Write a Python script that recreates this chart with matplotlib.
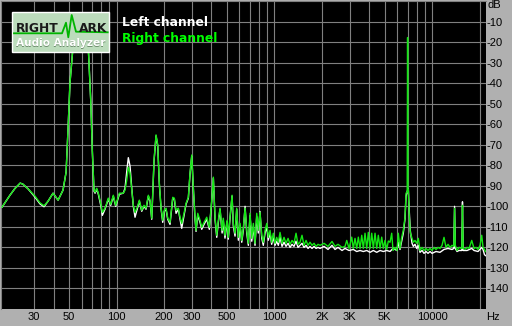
import matplotlib
matplotlib.use('Agg')
import matplotlib.pyplot as plt
from matplotlib.patches import Rectangle
from matplotlib.ticker import NullFormatter

# spectrum below ~450 Hz, both channels read at the same frequencies
freq_lo = [18.8, 21.1, 22.7, 24.5, 25.5, 27.5, 30.4, 32.7, 34.7, 36.8,
           39.6, 42.6, 45.8, 47.9, 49.3, 50.7, 52.8, 54.6, 59.1, 64.1,
           66.3, 68.6, 70.2, 72.0, 73.1, 74.9, 76.7, 79.4, 81.3, 84.5,
           88.7, 91.9, 95.4, 98.8, 104.2, 110.4, 113.2, 116.1, 118.8, 121.8,
           124.9, 127.8, 131.0, 135.5, 139.5, 144.5, 149.4, 153.8, 159.1, 163.1,
           167.2, 172.9, 178.0, 182.5, 186.8, 191.5, 196.3, 200.9, 206.0, 211.2,
           218.3, 227.2, 232.5, 238.4, 246.5, 252.7, 259.0, 267.9, 275.8, 285.3,
           292.4, 299.8, 306.8, 314.6, 319.2, 327.2, 338.4, 346.9, 358.8, 373.2,
           387.6, 401.4, 410.9, 421.2, 431.8, 442.0]
right_lo = [-100.4, -94.6, -91.3, -88.7, -89.2, -91.5, -95.0, -98.3, -99.7, -97.5,
            -93.6, -97.0, -92.1, -83.3, -62.0, -39.8, -23.7, -12.0, -7.0, -12.0,
            -23.7, -48.1, -72.6, -92.1, -93.1, -91.2, -93.6, -98.5, -102.9, -100.9,
            -96.0, -99.0, -94.6, -99.5, -93.6, -93.6, -92.1, -87.2, -80.9, -83.8,
            -92.1, -99.5, -102.9, -100.4, -97.0, -101.9, -99.5, -100.9, -94.6, -97.0,
            -105.8, -77.5, -65.2, -70.1, -88.7, -100.4, -106.8, -101.9, -100.9, -105.8,
            -107.8, -95.6, -96.0, -101.9, -100.9, -105.3, -108.3, -103.4, -98.5, -95.6,
            -83.8, -75.0, -90.7, -105.3, -111.7, -103.4, -106.8, -110.2, -107.8, -105.3,
            -110.2, -97.0, -85.8, -105.3, -114.1, -106.8]
left_lo = [-100.4, -94.6, -91.3, -88.7, -89.2, -91.5, -95.5, -98.8, -100.2, -97.5,
           -93.6, -97.0, -92.1, -83.3, -62.0, -39.8, -23.7, -12.0, -7.0, -12.0,
           -23.7, -48.1, -72.6, -92.6, -93.6, -91.7, -94.1, -99.5, -104.4, -101.4,
           -96.5, -99.5, -95.1, -100.0, -94.1, -93.6, -91.2, -83.0, -76.3, -80.4,
           -91.2, -100.0, -105.3, -101.0, -97.5, -102.4, -100.0, -101.4, -95.1, -97.5,
           -106.3, -78.0, -65.7, -70.6, -89.2, -101.0, -107.8, -102.4, -101.4, -106.3,
           -108.8, -96.0, -96.5, -103.4, -101.4, -106.3, -110.7, -104.4, -99.0, -96.0,
           -84.3, -75.5, -91.2, -106.3, -112.2, -104.4, -107.8, -111.2, -108.8, -106.3,
           -111.2, -97.5, -86.3, -106.3, -115.1, -107.8]

# 450 Hz - 1.9 kHz
freq_mid = [453, 467, 475, 487, 502, 511, 524, 540, 550, 564,
            578, 592, 607, 622, 637, 653, 669, 685, 702, 720,
            737, 755, 774, 792, 812, 833, 852, 874, 896, 917,
            940, 963, 986, 1011, 1036, 1061, 1088, 1120, 1153, 1187,
            1223, 1259, 1296, 1334, 1374, 1414, 1456, 1499, 1544, 1590,
            1637, 1685, 1735, 1787, 1840, 1894]
right_mid = [-100.9, -111.7, -105.8, -114.1, -106.8, -115.1, -105.3, -94.6, -108.3, -113.1,
             -100.9, -115.1, -108.3, -116.6, -110.2, -100.9, -111.7, -118.0, -103.4, -115.6,
             -108.3, -118.0, -103.4, -111.7, -102.9, -114.1, -117.5, -111.7, -108.3, -115.1,
             -111.7, -117.5, -113.1, -118.0, -115.1, -117.5, -112.7, -118.0, -115.1, -118.0,
             -115.6, -118.5, -116.6, -118.0, -113.1, -118.5, -117.5, -114.1, -119.0, -116.6,
             -119.0, -117.5, -119.0, -118.0, -119.5, -118.5]
left_mid = [-101.4, -113.0, -107.0, -115.5, -107.5, -116.0, -106.0, -95.0, -109.5, -114.5,
            -101.5, -116.5, -109.5, -117.5, -111.5, -100.0, -113.0, -119.0, -104.5, -117.0,
            -110.0, -119.0, -105.0, -113.0, -102.5, -115.5, -119.0, -113.0, -110.0, -116.5,
            -113.0, -118.5, -115.0, -119.0, -117.0, -119.0, -115.0, -119.5, -117.5, -119.5,
            -118.0, -120.0, -118.5, -119.5, -117.0, -120.0, -119.0, -118.0, -120.0, -119.0,
            -120.5, -119.5, -120.5, -119.5, -120.5, -120.0]

# above 1.9 kHz
freq_hi_r = [1950, 2068, 2191, 2323, 2427, 2536, 2689, 2809, 2880, 2978,
             3097, 3170, 3250, 3332, 3411, 3497, 3585, 3669, 3761, 3856,
             3947, 4046, 4148, 4246, 4353, 4462, 4567, 4682, 4799, 4913,
             5036, 5163, 5284, 5418, 5553, 5660, 5828, 5998, 6114, 6267,
             6425, 6578, 6743, 6843, 6960, 7000, 7040, 7077, 7181, 7287,
             7470, 7613, 7804, 7998, 8188, 8394, 8643, 8898, 9162, 9433,
             9712, 10000, 10296, 10602, 10914, 11237, 11571, 11914, 12267, 12630,
             13005, 13391, 13750, 13900, 14050, 14405, 14833, 15450, 15600, 15750,
             16193, 16673, 17166, 17855, 18461, 19009, 19573, 20155, 20660, 21055,
             21677, 21830]
right_hi = [-119.0, -118.0, -119.5, -117.1, -119.5, -118.5, -120.0, -119.5, -116.6, -120.5,
            -115.0, -120.5, -115.6, -120.5, -115.0, -120.5, -114.1, -120.5, -113.1, -120.5,
            -112.7, -120.5, -113.1, -120.5, -113.1, -120.5, -114.1, -120.5, -115.0, -120.5,
            -116.6, -121.0, -116.9, -117.5, -113.1, -121.5, -120.0, -121.5, -113.1, -120.5,
            -115.1, -111.7, -105.3, -93.6, -93.0, -17.8, -92.5, -92.1, -105.3, -113.1,
            -115.6, -117.5, -116.6, -118.0, -115.6, -121.5, -120.0, -121.5, -120.5, -121.5,
            -120.5, -121.5, -120.0, -121.0, -120.0, -120.5, -119.0, -115.1, -120.0, -118.5,
            -120.0, -119.0, -119.5, -101.0, -119.0, -121.5, -120.0, -120.5, -99.5, -120.5,
            -121.0, -120.0, -120.5, -116.6, -120.5, -120.0, -121.0, -119.0, -114.1, -120.0,
            -121.5, -122.0]
freq_hi_l = [1950, 2068, 2191, 2323, 2427, 2536, 2689, 2809, 2978, 3170,
             3332, 3497, 3669, 3856, 4046, 4246, 4462, 4682, 4913, 5163,
             5418, 5660, 5998, 6114, 6267, 6578, 6743, 6843, 7000, 7077,
             7181, 7287, 7470, 7613, 7804, 7998, 8188, 8394, 8643, 8898,
             9162, 9433, 9712, 10000, 10602, 11237, 11914, 12630, 13391, 13750,
             13900, 14050, 14405, 14833, 15450, 15600, 15750, 16673, 17855, 18461,
             19573, 20660, 21055, 21500, 21830]
left_hi = [-120.5, -119.5, -121.0, -119.0, -121.0, -120.0, -121.5, -120.5, -121.5, -121.0,
           -122.0, -121.5, -122.0, -121.5, -122.4, -121.5, -122.4, -121.5, -122.0, -121.5,
           -122.0, -120.5, -121.5, -117.5, -121.0, -113.0, -106.0, -95.0, -92.1, -91.7,
           -103.0, -112.0, -118.0, -119.5, -118.5, -120.5, -119.0, -122.4, -121.5, -122.9,
           -122.0, -122.9, -122.0, -122.9, -122.0, -122.4, -121.0, -120.5, -121.0, -120.5,
           -100.0, -120.5, -122.0, -121.5, -121.5, -97.8, -121.5, -121.5, -120.5, -121.5,
           -122.0, -120.0, -121.0, -123.5, -124.0]

xtick_vals = [30, 50, 100, 200, 300, 500, 1000, 2000, 3000, 5000, 10000]
xtick_labels = ['30', '50', '100', '200', '300', '500', '1000', '2K', '3K', '5K', '10000']
xgrid_minor = [40, 60, 70, 80, 90, 400, 600, 700, 800, 900,
               4000, 6000, 7000, 8000, 9000, 20000]
ytick_vals = [-10, -20, -30, -40, -50, -60, -70, -80, -90, -100, -110, -120, -130, -140]
ytick_labels = ['-10', '-20', '-30', '-40', '-50', '-60', '-70', '-80', '-90', '-100',
                '-110', '-120', '-130', '-140']

plt.rcParams['font.family'] = 'Liberation Sans'
W, H = 512, 326
fig = plt.figure(figsize=(W / 100, H / 100), dpi=100, facecolor='#b0b0b0')
ax = fig.add_axes([1 / W, 17 / H, 484.5 / W, 308 / H])
ax.set_facecolor('black')
ax.set_xscale('log')
ax.set_xlim(18.52, 21830)
ax.set_ylim(-150, 0)

ax.set_xticks(xtick_vals)
ax.set_xticklabels(xtick_labels)
ax.set_xticks(xgrid_minor, minor=True)
ax.xaxis.set_minor_formatter(NullFormatter())
ax.yaxis.tick_right()
ax.set_yticks(ytick_vals)
ax.set_yticklabels(ytick_labels)
ax.tick_params(which='both', length=0, labelsize=8, colors='black')
ax.tick_params(axis='x', pad=2)
ax.tick_params(axis='y', pad=0.5)
ax.grid(which='both', color='#808080', linewidth=0.8)
ax.set_axisbelow(True)
for side in ['left', 'top']:
    ax.spines[side].set_color('#808080')
for side in ['right', 'bottom']:
    ax.spines[side].set_visible(False)

ax.plot(freq_lo + freq_mid + freq_hi_l, left_lo + left_mid + left_hi,
        color='white', linewidth=1.0, zorder=3)
ax.plot(freq_lo + freq_mid + freq_hi_r, right_lo + right_mid + right_hi,
        color='#14e614', linewidth=1.0, zorder=4)

# overlay in pixel coordinates for logo and captions
ov = fig.add_axes([0, 0, 1, 1])
ov.set_xlim(0, W)
ov.set_ylim(H, 0)
ov.axis('off')

ov.add_patch(Rectangle((12.3, 12.3), 96.7, 39.4, facecolor='#bcdcbc',
                       edgecolor='white', linewidth=1.0))
ov.plot([14, 62, 66, 68.3, 71.7, 76, 107.7], [33.3, 33.3, 22.7, 37.3, 15, 31.7, 32.3],
        color='#00b400', linewidth=1.3)
ov.text(16, 31.5, 'RIGHT', family='DejaVu Sans', fontweight='bold', fontsize=8.8,
        color='#1a1a1a', va='baseline', ha='left')
ov.text(79, 31.5, 'ARK', family='DejaVu Sans', fontweight='bold', fontsize=8.8,
        color='#1a1a1a', va='baseline', ha='left')
ov.text(16.4, 44.3, 'Audio Analyzer', family='DejaVu Sans', fontweight='bold', fontsize=7.6,
        color='#6f8f6f', va='center', ha='left')
ov.text(15.6, 43.5, 'Audio Analyzer', family='DejaVu Sans', fontweight='bold', fontsize=7.6,
        color='white', va='center', ha='left')

ov.text(122.5, 22.7, 'Left channel', family='DejaVu Sans', fontweight='bold', fontsize=8.8,
        color='white', va='center', ha='left')
ov.text(122.5, 38.3, 'Right channel', family='DejaVu Sans', fontweight='bold', fontsize=8.8,
        color='#00ff00', va='center', ha='left')

ov.text(488, 5.5, 'dB', fontsize=8, color='black', va='center', ha='left')
ov.text(486, 316.5, 'Hz', fontsize=8, color='black', va='center', ha='left')

fig.savefig('out.png', dpi=100, facecolor=fig.get_facecolor())
